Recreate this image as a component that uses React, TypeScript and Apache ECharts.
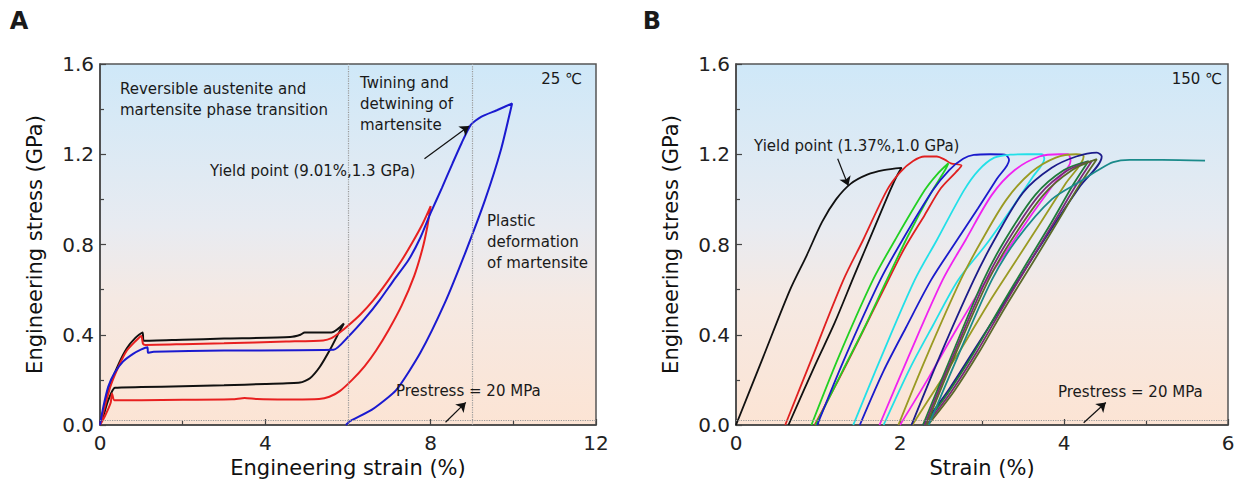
import React, { useEffect, useRef } from "react";
import * as echarts from "echarts";

type P = [number, number];

// ---------- Panel A (25 ℃) ----------
const aBlack: P[] = [
  [0, 0], [0.1, 0.08], [0.25, 0.18], [0.45, 0.27], [0.65, 0.34], [0.85, 0.385], [1.03, 0.41],
  [1.06, 0.373], [2, 0.378], [3, 0.383], [4.6, 0.39], [4.85, 0.4], [4.95, 0.41], [5.6, 0.41],
  [5.75, 0.425], [5.9, 0.45],
  [5.77, 0.406], [5.56, 0.332], [5.32, 0.258], [5.08, 0.207], [4.84, 0.188], [4, 0.182],
  [3, 0.176], [2, 0.172], [1, 0.168], [0.36, 0.165], [0.2, 0.11], [0.08, 0.04], [0, 0],
];
const aRed: P[] = [
  [0, 0], [0.1, 0.07], [0.25, 0.17], [0.45, 0.26], [0.65, 0.33], [0.85, 0.37], [1.0, 0.395],
  [1.04, 0.36], [1.1, 0.355], [2, 0.358], [3, 0.362], [4.5, 0.37], [5.4, 0.375], [5.6, 0.385],
  [5.8, 0.41], [6.0, 0.44], [6.3, 0.49], [6.6, 0.55], [6.97, 0.64], [7.3, 0.73], [7.56, 0.81],
  [7.8, 0.89], [8.0, 0.97],
  [7.92, 0.88], [7.8, 0.78], [7.6, 0.66], [7.3, 0.53], [6.98, 0.42], [6.68, 0.33], [6.4, 0.26],
  [6.1, 0.2], [5.8, 0.15], [5.55, 0.125], [5.3, 0.115], [4.5, 0.113], [3.8, 0.115], [3.5, 0.12],
  [3.2, 0.114], [2, 0.112], [1, 0.11], [0.35, 0.11], [0.29, 0.14], [0.26, 0.1], [0.12, 0.04], [0, 0],
];
const aBlue: P[] = [
  [0, 0], [0.08, 0.08], [0.2, 0.17], [0.35, 0.23], [0.55, 0.28], [0.8, 0.315], [1.0, 0.335],
  [1.15, 0.345], [1.16, 0.32], [1.3, 0.325], [3, 0.33], [5.65, 0.333], [6.0, 0.39], [6.4, 0.47],
  [6.77, 0.555], [7.1, 0.64], [7.46, 0.73], [7.75, 0.83], [8.0, 0.94], [8.27, 1.05], [8.53, 1.16],
  [8.75, 1.25], [8.97, 1.33], [9.22, 1.366], [9.6, 1.395], [9.97, 1.425],
  [9.7, 1.22], [9.32, 1.0], [8.83, 0.76], [8.34, 0.54], [7.75, 0.32], [7.17, 0.156], [6.58, 0.068],
  [6.04, 0.016], [5.95, 0],
];
const aNames = ["Cycle to 6%", "Cycle to 8%", "Cycle to 10%"];
const aColors = ["#111111", "#e82020", "#1a1ad0"];

// ---------- Panel B (150 ℃) ----------
const bLoad: P[][] = [
  [[0, 0], [0.33, 0.3], [0.66, 0.6], [0.86, 0.75], [1.05, 0.9], [1.22, 1.0], [1.4, 1.07], [1.6, 1.11], [1.8, 1.13], [2.02, 1.14]],
  [[0.6, 0], [0.93, 0.3], [1.31, 0.643], [1.55, 0.82], [1.84, 1.04], [2.0, 1.12], [2.16, 1.17], [2.3, 1.19], [2.45, 1.19], [2.55, 1.175], [2.62, 1.16], [2.75, 1.15]],
  [[0.92, 0], [1.25, 0.3], [1.67, 0.643], [1.94, 0.82], [2.3, 1.04], [2.45, 1.11], [2.59, 1.16]],
  [[0.99, 0], [1.33, 0.3], [1.76, 0.643], [2.03, 0.82], [2.4, 1.04], [2.6, 1.13], [2.77, 1.18], [2.9, 1.197], [3.1, 1.2], [3.28, 1.198], [3.33, 1.175]],
  [[1.43, 0], [1.77, 0.3], [2.18, 0.643], [2.45, 0.82], [2.78, 1.04], [2.96, 1.13], [3.15, 1.185], [3.34, 1.198], [3.55, 1.2], [3.73, 1.2], [3.76, 1.18]],
  [[1.75, 0], [2.1, 0.3], [2.52, 0.643], [2.8, 0.82], [3.12, 1.02], [3.4, 1.13], [3.7, 1.19], [3.95, 1.2], [4.05, 1.2], [4.08, 1.17]],
  [[1.98, 0], [2.32, 0.3], [2.74, 0.643], [3.0, 0.82], [3.3, 1.0], [3.6, 1.12], [3.9, 1.185], [4.15, 1.2], [4.24, 1.19]],
  [[2.14, 0], [2.48, 0.3], [2.9, 0.643], [3.15, 0.82], [3.5, 1.03], [3.85, 1.14], [4.15, 1.19], [4.4, 1.207], [4.46, 1.19]],
  [[2.28, 0], [2.62, 0.3], [3.02, 0.643], [3.28, 0.82], [3.65, 1.02], [4.0, 1.13], [4.3, 1.17]],
  [[2.3, 0], [2.64, 0.3], [3.05, 0.643], [3.32, 0.82], [3.7, 1.02], [4.05, 1.13], [4.34, 1.17]],
  [[2.32, 0], [2.66, 0.3], [3.08, 0.643], [3.36, 0.82], [3.75, 1.02], [4.1, 1.13], [4.4, 1.178]],
  [[2.35, 0], [2.7, 0.3], [3.12, 0.643], [3.42, 0.82], [3.85, 1.0], [4.2, 1.08], [4.42, 1.13], [4.6, 1.165], [4.8, 1.175], [5.2, 1.175], [5.72, 1.172]],
];
const bUnload: P[][] = [
  [[1.97, 1.11], [1.88, 1.04], [1.66, 0.85], [1.45, 0.67], [1.2, 0.45], [0.97, 0.27], [0.64, 0]],
  [[2.68, 1.12], [2.5, 1.05], [2.3, 0.93], [2.05, 0.78], [1.8, 0.6], [1.5, 0.38], [1.25, 0.2], [0.96, 0]],
  [[2.55, 1.13], [2.38, 1.03], [2.1, 0.84], [1.84, 0.643], [1.55, 0.42], [1.3, 0.24], [0.97, 0]],
  [[3.18, 1.09], [2.95, 0.96], [2.66, 0.8], [2.38, 0.643], [2.07, 0.43], [1.8, 0.24], [1.51, 0]],
  [[3.62, 1.1], [3.4, 0.98], [3.05, 0.8], [2.71, 0.643], [2.4, 0.44], [2.12, 0.25], [1.8, 0]],
  [[3.88, 1.07], [3.6, 0.93], [3.3, 0.77], [2.98, 0.6], [2.65, 0.4], [2.35, 0.21], [2.0, 0]],
  [[4.02, 1.07], [3.72, 0.9], [3.4, 0.72], [3.08, 0.54], [2.75, 0.34], [2.45, 0.17], [2.15, 0]],
  [[4.2, 1.06], [3.9, 0.9], [3.58, 0.72], [3.25, 0.53], [2.9, 0.33], [2.6, 0.16], [2.28, 0]],
  [[4.12, 1.07], [3.85, 0.9], [3.55, 0.72], [3.22, 0.52], [2.9, 0.32], [2.6, 0.15], [2.3, 0]],
  [[4.16, 1.07], [3.88, 0.9], [3.58, 0.72], [3.25, 0.52], [2.93, 0.32], [2.63, 0.15], [2.32, 0]],
  [[4.2, 1.07], [3.92, 0.9], [3.62, 0.72], [3.28, 0.52], [2.96, 0.32], [2.66, 0.15], [2.34, 0]],
  [],
];
const bColors = [
  "#111111", "#e02020", "#22d022", "#1a1acc", "#22e0e8", "#f022f0",
  "#9a9a22", "#1c1c8a", "#1f7a3a", "#7a2a7a", "#5a6a2a", "#1a8a8a",
];

const xTicksA = [0, 4, 8, 12];
const xTicksB = [0, 2, 4, 6];
const yTicks = [0, 0.4, 0.8, 1.2, 1.6];
const prestress = 0.02; // GPa

const FONT = "'DejaVu Sans', sans-serif";

export default function App() {
  const ref = useRef<HTMLDivElement>(null);
  useEffect(() => {
    if (!ref.current) return;
    const chart = echarts.init(ref.current, undefined, { renderer: "svg" });

    const bg = () =>
      new echarts.graphic.LinearGradient(0, 0, 0, 1, [
        { offset: 0, color: "#cfe8f8" },
        { offset: 0.45, color: "#e8ebf1" },
        { offset: 0.65, color: "#f5e9e3" },
        { offset: 1, color: "#fce4d4" },
      ]);

    const xAxisBase = (idx: number, ticks: number[], name: string) => ({
      type: "value",
      gridIndex: idx,
      min: ticks[0],
      max: ticks[ticks.length - 1],
      interval: ticks[1] - ticks[0],
      name,
      nameLocation: "middle",
      nameGap: 32,
      nameTextStyle: { fontFamily: FONT, fontSize: 21, color: "#111" },
      axisLine: { show: true, lineStyle: { color: "#444", width: 1.5 } },
      axisTick: { show: true, inside: true, length: 6, lineStyle: { color: "#444", width: 1.2 } },
      minorTick: { show: true, splitNumber: 2, length: 4, lineStyle: { color: "#444", width: 1.2 } },
      splitLine: { show: false },
      axisLabel: { fontFamily: FONT, fontSize: 20, color: "#222", margin: 8 },
    });
    const yAxisBase = (idx: number) => ({
      type: "value",
      gridIndex: idx,
      min: yTicks[0],
      max: yTicks[yTicks.length - 1],
      interval: yTicks[1] - yTicks[0],
      name: "Engineering stress (GPa)",
      nameLocation: "middle",
      nameGap: 55,
      nameTextStyle: { fontFamily: FONT, fontSize: 21, color: "#111" },
      axisLine: { show: true, lineStyle: { color: "#444", width: 1.5 } },
      axisTick: { show: true, inside: true, length: 6, lineStyle: { color: "#444", width: 1.2 } },
      minorTick: { show: true, splitNumber: 2, length: 4, lineStyle: { color: "#444", width: 1.2 } },
      splitLine: { show: false },
      axisLabel: {
        fontFamily: FONT, fontSize: 20, color: "#222", margin: 6,
        formatter: (v: number) => v.toFixed(1),
      },
    });

    const dotted = { color: "#9a9a9a", type: "dotted" as const, width: 1.2 };
    const arrowStyle = { color: "#111", type: "solid" as const, width: 1.2 };

    const series: any[] = [];
    [aBlack, aRed, aBlue].forEach((d, i) => {
      series.push({
        type: "line", name: aNames[i], xAxisIndex: 0, yAxisIndex: 0, data: d,
        showSymbol: false, smooth: 0.2, lineStyle: { color: aColors[i], width: 2 },
        itemStyle: { color: aColors[i] }, z: 3,
      });
    });
    bLoad.forEach((ld, i) => {
      const d = ld.concat(bUnload[i]);
      series.push({
        type: "line", name: "B cycle " + (i + 1), xAxisIndex: 1, yAxisIndex: 1, data: d,
        showSymbol: false, smooth: 0.3, lineStyle: { color: bColors[i], width: 1.8 },
        itemStyle: { color: bColors[i] }, z: 3,
      });
    });
    series.push({
      type: "line", xAxisIndex: 0, yAxisIndex: 0, data: [], silent: true,
      markLine: {
        silent: true, animation: false, symbol: ["none", "none"], label: { show: false },
        data: [
          { yAxis: prestress, lineStyle: dotted },
          { xAxis: 6, lineStyle: dotted },
          { xAxis: 9, lineStyle: dotted },
          [
            { coord: [7.85, 1.18], symbol: "none", lineStyle: arrowStyle },
            { coord: [8.93, 1.325], symbol: "arrow", symbolSize: 9 },
          ],
          [
            { coord: [8.36, 0.012], symbol: "none", lineStyle: arrowStyle },
            { coord: [8.85, 0.1], symbol: "arrow", symbolSize: 9 },
          ],
        ],
      },
    });
    series.push({
      type: "line", xAxisIndex: 1, yAxisIndex: 1, data: [], silent: true,
      markLine: {
        silent: true, animation: false, symbol: ["none", "none"], label: { show: false },
        data: [
          { yAxis: prestress, lineStyle: dotted },
          [
            { coord: [1.24, 1.18], symbol: "none", lineStyle: arrowStyle },
            { coord: [1.37, 1.06], symbol: "arrow", symbolSize: 9 },
          ],
          [
            { coord: [4.24, 0.01], symbol: "none", lineStyle: arrowStyle },
            { coord: [4.51, 0.1], symbol: "arrow", symbolSize: 9 },
          ],
        ],
      },
    });

    const txt = (text: string, x: number, y: number, opts: any = {}) => ({
      type: "text",
      x, y, z: 10,
      style: {
        text, fill: "#1a1a1a", fontFamily: FONT, fontSize: opts.size || 15, lineHeight: 21,
        align: opts.align || "left", textAlign: opts.align || "left",
        verticalAlign: opts.va || "middle", textVerticalAlign: opts.va || "middle",
        fontWeight: opts.bold ? "bold" : "normal",
      },
    });

    chart.setOption({
      animation: false,
      backgroundColor: "#ffffff",
      grid: [
        { left: 100, top: 64, width: 496, height: 361, show: true, backgroundColor: bg(), borderColor: "#555", borderWidth: 1.5 },
        { left: 736, top: 64, width: 492, height: 361, show: true, backgroundColor: bg(), borderColor: "#555", borderWidth: 1.5 },
      ],
      xAxis: [xAxisBase(0, xTicksA, "Engineering strain (%)"), xAxisBase(1, xTicksB, "Strain (%)")],
      yAxis: [yAxisBase(0), yAxisBase(1)],
      series,
      graphic: [
        txt("A", 19, 21, { bold: true, size: 24, align: "center" }),
        txt("B", 652, 21, { bold: true, size: 24, align: "center" }),
        txt("Reversible austenite and\nmartensite phase transition", 120, 78, { va: "top" }),
        txt("Twining and\ndetwining of\nmartensite", 360, 72, { va: "top" }),
        txt("25 ℃", 582, 79, { align: "right" }),
        txt("Yield point (9.01%,1.3 GPa)", 210, 171),
        txt("Plastic\ndeformation\nof martensite", 487, 210, { va: "top" }),
        txt("Prestress = 20 MPa", 396, 391),
        txt("150 ℃", 1222, 79, { align: "right" }),
        txt("Yield point (1.37%,1.0 GPa)", 754, 146),
        txt("Prestress = 20 MPa", 1058, 392),
      ],
    });
    return () => chart.dispose();
  }, []);
  return (
    <div
      ref={ref}
      style={{ position: "absolute", left: 0, top: 0, width: 1239, height: 490 }}
    />
  );
}
